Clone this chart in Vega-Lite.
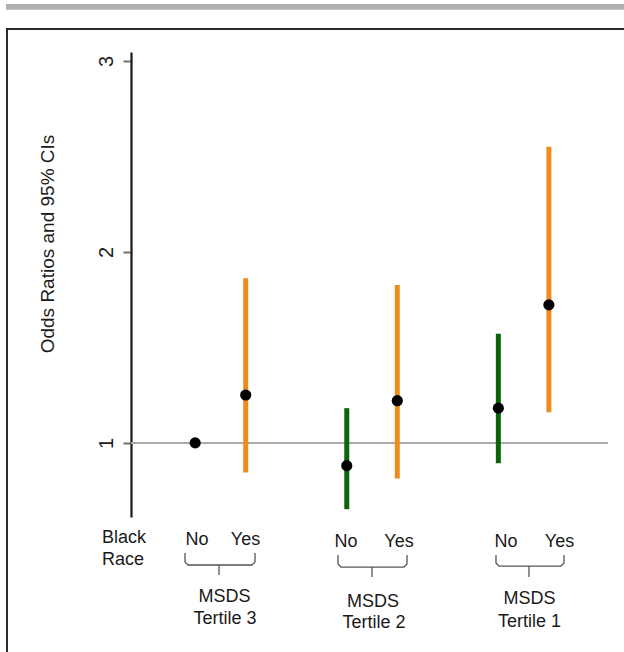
{
  "$schema": "https://vega.github.io/schema/vega-lite/v6.json",
  "autosize": {"type": "none"},
  "width": 477,
  "height": 465,
  "padding": {"left": 131, "top": 52, "right": 16, "bottom": 135},
  "background": "white",
  "config": {
    "view": {"stroke": null},
    "font": "Liberation Sans",
    "text": {"font": "Liberation Sans"}
  },
  "resolve": {"axis": {"x": "independent", "y": "independent"}},
  "datasets": {
    "estimates": [
      {"tertile": "Tertile 3", "race": "No", "pos": 1, "or": 1.0, "lo": null, "hi": null},
      {"tertile": "Tertile 3", "race": "Yes", "pos": 2, "or": 1.251, "lo": 0.845, "hi": 1.862},
      {"tertile": "Tertile 2", "race": "No", "pos": 4, "or": 0.881, "lo": 0.653, "hi": 1.182},
      {"tertile": "Tertile 2", "race": "Yes", "pos": 5, "or": 1.221, "lo": 0.813, "hi": 1.827},
      {"tertile": "Tertile 1", "race": "No", "pos": 7, "or": 1.182, "lo": 0.894, "hi": 1.571},
      {"tertile": "Tertile 1", "race": "Yes", "pos": 8, "or": 1.723, "lo": 1.161, "hi": 2.551}
    ],
    "labels": [
      {"kind": "side", "label": "Black", "px": -0.844, "py": 0.476},
      {"kind": "side", "label": "Race", "px": -0.844, "py": 0.361},
      {"kind": "mid", "label": "No", "px": 1.036, "py": 0.465},
      {"kind": "mid", "label": "Yes", "px": 1.996, "py": 0.465},
      {"kind": "mid", "label": "No", "px": 3.985, "py": 0.455},
      {"kind": "mid", "label": "Yes", "px": 5.034, "py": 0.455},
      {"kind": "mid", "label": "No", "px": 7.151, "py": 0.455},
      {"kind": "mid", "label": "Yes", "px": 8.21, "py": 0.455},
      {"kind": "mid", "label": "MSDS", "px": 1.58, "py": 0.167},
      {"kind": "mid", "label": "Tertile 3", "px": 1.59, "py": 0.052},
      {"kind": "mid", "label": "MSDS", "px": 4.519, "py": 0.141},
      {"kind": "mid", "label": "Tertile 2", "px": 4.539, "py": 0.031},
      {"kind": "mid", "label": "MSDS", "px": 7.616, "py": 0.156},
      {"kind": "mid", "label": "Tertile 1", "px": 7.616, "py": 0.036}
    ],
    "braces": [
      {"g": "T3", "k": 1, "bx": 0.799, "by": 0.4235},
      {"g": "T3", "k": 2, "bx": 0.799, "by": 0.3764},
      {"g": "T3", "k": 3, "bx": 0.858, "by": 0.3607},
      {"g": "T3", "k": 4, "bx": 1.472, "by": 0.3607},
      {"g": "T3", "k": 5, "bx": 1.472, "by": 0.3083},
      {"g": "T3", "k": 6, "bx": 1.472, "by": 0.3607},
      {"g": "T3", "k": 7, "bx": 2.125, "by": 0.3607},
      {"g": "T3", "k": 8, "bx": 2.184, "by": 0.3764},
      {"g": "T3", "k": 9, "bx": 2.184, "by": 0.4235},
      {"g": "T2", "k": 1, "bx": 3.827, "by": 0.413},
      {"g": "T2", "k": 2, "bx": 3.827, "by": 0.366},
      {"g": "T2", "k": 3, "bx": 3.886, "by": 0.35},
      {"g": "T2", "k": 4, "bx": 4.499, "by": 0.35},
      {"g": "T2", "k": 5, "bx": 4.499, "by": 0.298},
      {"g": "T2", "k": 6, "bx": 4.499, "by": 0.35},
      {"g": "T2", "k": 7, "bx": 5.133, "by": 0.35},
      {"g": "T2", "k": 8, "bx": 5.192, "by": 0.366},
      {"g": "T2", "k": 9, "bx": 5.192, "by": 0.413},
      {"g": "T1", "k": 1, "bx": 6.953, "by": 0.413},
      {"g": "T1", "k": 2, "bx": 6.953, "by": 0.371},
      {"g": "T1", "k": 3, "bx": 7.013, "by": 0.355},
      {"g": "T1", "k": 4, "bx": 7.606, "by": 0.355},
      {"g": "T1", "k": 5, "bx": 7.606, "by": 0.298},
      {"g": "T1", "k": 6, "bx": 7.606, "by": 0.355},
      {"g": "T1", "k": 7, "bx": 8.24, "by": 0.355},
      {"g": "T1", "k": 8, "bx": 8.299, "by": 0.371},
      {"g": "T1", "k": 9, "bx": 8.299, "by": 0.413}
    ],
    "frame": [
      {"x1": -2.724, "x2": -2.724, "y1": -0.3, "y2": 3.172},
      {"x1": -2.744, "x2": 9.9, "y1": 3.167, "y2": 3.167}
    ],
    "topbar": [
      {"x1": -2.744, "x2": 9.9, "y1": 3.268, "y2": 3.298}
    ]
  },
  "layer": [
    {
      "data": {"name": "topbar"},
      "mark": {"type": "rect", "color": "#b0b0b3"},
      "encoding": {
        "x": {"field": "x1", "type": "quantitative", "scale": {"domain": [-0.27, 9.17], "nice": false, "zero": false}, "axis": null},
        "x2": {"field": "x2"},
        "y": {"field": "y1", "type": "quantitative", "scale": {"domain": [0.612, 3.047], "nice": false, "zero": false}, "axis": null},
        "y2": {"field": "y2"}
      }
    },
    {
      "data": {"name": "frame"},
      "mark": {"type": "rule", "color": "#2b2b2b", "strokeWidth": 2},
      "encoding": {
        "x": {"field": "x1", "type": "quantitative", "axis": null},
        "x2": {"field": "x2"},
        "y": {"field": "y1", "type": "quantitative", "axis": null},
        "y2": {"field": "y2"}
      }
    },
    {
      "data": {"name": "estimates"},
      "mark": {"type": "rule", "color": "#aaaaaa", "strokeWidth": 2},
      "encoding": {
        "y": {"datum": 1, "type": "quantitative", "axis": null}
      }
    },
    {
      "data": {"name": "estimates"},
      "transform": [{"filter": "datum.lo != null"}],
      "mark": {"type": "rule", "strokeWidth": 5},
      "encoding": {
        "x": {"field": "pos", "type": "quantitative", "axis": null},
        "y": {"field": "lo", "type": "quantitative", "axis": null},
        "y2": {"field": "hi"},
        "color": {"field": "race", "type": "nominal", "scale": {"domain": ["No", "Yes"], "range": ["#0b650b", "#ef8b1c"]}, "legend": null}
      }
    },
    {
      "data": {"name": "estimates"},
      "mark": {"type": "circle", "color": "#000000", "opacity": 1, "size": 125},
      "encoding": {
        "x": {"field": "pos", "type": "quantitative", "axis": null},
        "y": {
          "field": "or",
          "type": "quantitative",
          "axis": {
            "title": "Odds Ratios and 95% CIs",
            "values": [1, 2, 3],
            "grid": false,
            "domainColor": "#1a1a1a",
            "domainWidth": 2.2,
            "tickColor": "#707070",
            "tickWidth": 2,
            "tickSize": 8,
            "labelFont": "Liberation Sans",
            "labelFontSize": 20,
            "labelColor": "#1a1a1a",
            "labelAngle": 270,
            "labelAlign": "center",
            "labelBaseline": "alphabetic",
            "labelPadding": 11,
            "titleFont": "Liberation Sans",
            "titleFontSize": 19,
            "titleFontWeight": "normal",
            "titleColor": "#1a1a1a",
            "titleAngle": 270,
            "titleAlign": "center",
            "titleBaseline": "alphabetic",
            "titleX": -78,
            "titleY": 191.5
          }
        }
      }
    },
    {
      "data": {"name": "labels"},
      "transform": [{"filter": "datum.kind == 'mid'"}],
      "mark": {"type": "text", "align": "center", "baseline": "alphabetic", "fontSize": 18, "color": "#1a1a1a"},
      "encoding": {
        "x": {"field": "px", "type": "quantitative", "axis": null},
        "y": {"field": "py", "type": "quantitative", "axis": null},
        "text": {"field": "label"}
      }
    },
    {
      "data": {"name": "labels"},
      "transform": [{"filter": "datum.kind == 'side'"}],
      "mark": {"type": "text", "align": "left", "baseline": "alphabetic", "fontSize": 18, "color": "#1a1a1a"},
      "encoding": {
        "x": {"field": "px", "type": "quantitative", "axis": null},
        "y": {"field": "py", "type": "quantitative", "axis": null},
        "text": {"field": "label"}
      }
    },
    {
      "data": {"name": "braces"},
      "mark": {"type": "line", "color": "#555555", "strokeWidth": 1.3},
      "encoding": {
        "x": {"field": "bx", "type": "quantitative", "axis": null},
        "y": {"field": "by", "type": "quantitative", "axis": null},
        "detail": {"field": "g"},
        "order": {"field": "k", "type": "quantitative"}
      }
    }
  ]
}
